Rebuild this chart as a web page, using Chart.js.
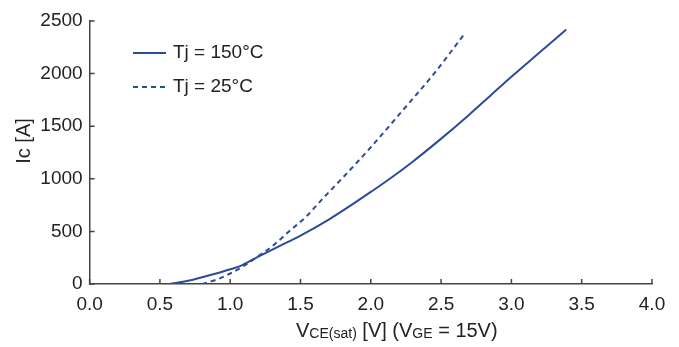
<!DOCTYPE html>
<html>
<head>
<meta charset="utf-8">
<script src="https://cdn.jsdelivr.net/npm/chart.js@4/dist/chart.umd.min.js"></script>
<style>
  html, body { margin: 0; padding: 0; background: #ffffff; }
  #wrap { width: 679px; height: 347px; position: relative; }
</style>
</head>
<body>
<div id="wrap"><canvas id="c" width="679" height="347"></canvas></div>
<script>
// Output characteristic: collector current vs. saturation voltage
const vce150 = [0.57, 0.70, 0.80, 0.90, 1.00, 1.07, 1.20, 1.35, 1.50, 1.71, 1.85, 2.00, 2.14, 2.30, 2.49, 2.70, 2.85, 3.00, 3.20, 3.39];
const ic150  = [0,    30,   65,   100,  140,  170,  260,  360,  460,  620,  740,  875,  1005, 1165, 1370, 1610, 1790, 1970, 2200, 2420];

const vce25 = [0.80, 0.90, 1.00, 1.10, 1.20, 1.30, 1.43, 1.54, 1.65, 1.80, 2.00, 2.21, 2.45, 2.66];
const ic25  = [0,    40,   100,  175,  265,  360,  513,  640,  800,  1010, 1300, 1624, 2000, 2367];

const xTicks = [0.0, 0.5, 1.0, 1.5, 2.0, 2.5, 3.0, 3.5, 4.0];
const yTicks = [0, 500, 1000, 1500, 2000, 2500];

const seriesLabels = ['Tj = 150°C', 'Tj = 25°C'];

const LINE = '#2e4a9a';
const TEXT = '#222222';
const AXIS = '#444444';
const FONT = '"Liberation Sans", Arial, sans-serif';

const toPoints = (xs, ys) => xs.map((x, i) => ({ x: x, y: ys[i] }));

// Inward tick marks, axis titles and the inline legend
const decorations = {
  id: 'decorations',
  afterDraw(chart) {
    const ctx = chart.ctx;
    const xs = chart.scales.x, ys = chart.scales.y;
    const area = chart.chartArea;
    ctx.save();
    ctx.strokeStyle = AXIS;
    ctx.lineWidth = 1.5;
    ctx.beginPath();
    xTicks.forEach(v => {
      const px = xs.getPixelForValue(v);
      ctx.moveTo(px, area.bottom);
      ctx.lineTo(px, area.bottom - 5);
    });
    yTicks.forEach(v => {
      const py = ys.getPixelForValue(v);
      ctx.moveTo(area.left, py);
      ctx.lineTo(area.left + 5, py);
    });
    ctx.stroke();

    // y axis title
    ctx.fillStyle = TEXT;
    ctx.save();
    ctx.translate(24, 141);
    ctx.rotate(-Math.PI / 2);
    ctx.font = '20px ' + FONT;
    ctx.textAlign = 'center';
    ctx.textBaseline = 'middle';
    ctx.fillText('Ic [A]', 0, 0);
    ctx.restore();

    // x axis title with subscripts
    const parts = [
      { t: 'V', s: false }, { t: 'CE(sat)', s: true }, { t: ' [V] (V', s: false },
      { t: 'GE', s: true }, { t: ' = 15V)', s: false }
    ];
    let x = 296;
    const base = 337;
    ctx.textAlign = 'left';
    ctx.textBaseline = 'alphabetic';
    parts.forEach(p => {
      ctx.font = (p.s ? '14px ' : '20px ') + FONT;
      ctx.fillText(p.t, x, p.s ? base + 1 : base);
      x += ctx.measureText(p.t).width;
    });

    // legend
    chart.data.datasets.forEach((ds, i) => {
      const ly = 53 + i * 34;
      ctx.strokeStyle = ds.borderColor;
      ctx.lineWidth = ds.borderWidth;
      ctx.setLineDash(ds.borderDash || []);
      ctx.beginPath();
      ctx.moveTo(133, ly);
      ctx.lineTo(166, ly);
      ctx.stroke();
      ctx.setLineDash([]);
      ctx.fillStyle = TEXT;
      ctx.font = '19px ' + FONT;
      ctx.textBaseline = 'middle';
      ctx.fillText(ds.label, 173, ly);
    });
    ctx.restore();
  }
};

new Chart(document.getElementById('c'), {
  type: 'line',
  data: {
    datasets: [
      {
        label: seriesLabels[0],
        data: toPoints(vce150, ic150),
        borderColor: LINE,
        borderWidth: 2,
        pointRadius: 0,
        cubicInterpolationMode: 'monotone',
        fill: false
      },
      {
        label: seriesLabels[1],
        data: toPoints(vce25, ic25),
        borderColor: LINE,
        borderWidth: 2,
        borderDash: [5, 4],
        pointRadius: 0,
        cubicInterpolationMode: 'monotone',
        fill: false
      }
    ]
  },
  options: {
    responsive: false,
    animation: false,
    devicePixelRatio: 1,
    layout: { padding: { left: 0, right: 27, top: 21, bottom: 0 } },
    plugins: { legend: { display: false }, tooltip: { enabled: false } },
    scales: {
      x: {
        type: 'linear',
        min: 0, max: 4,
        afterFit: s => { s.height = 63; },
        afterBuildTicks: s => { s.ticks = xTicks.map(v => ({ value: v })); },
        grid: { display: false, drawTicks: false },
        border: { display: true, color: AXIS, width: 1.5 },
        ticks: {
          padding: 9,
          color: TEXT,
          font: { family: FONT, size: 19 },
          maxRotation: 0,
          callback: v => Number(v).toFixed(1)
        }
      },
      y: {
        type: 'linear',
        min: 0, max: 2500,
        afterFit: s => { s.width = 89.6; },
        afterBuildTicks: s => { s.ticks = yTicks.map(v => ({ value: v })); },
        grid: { display: false, drawTicks: false },
        border: { display: true, color: AXIS, width: 1.5 },
        ticks: {
          padding: 7,
          color: TEXT,
          font: { family: FONT, size: 19 },
          callback: v => String(v)
        }
      }
    }
  },
  plugins: [decorations]
});
</script>
</body>
</html>
